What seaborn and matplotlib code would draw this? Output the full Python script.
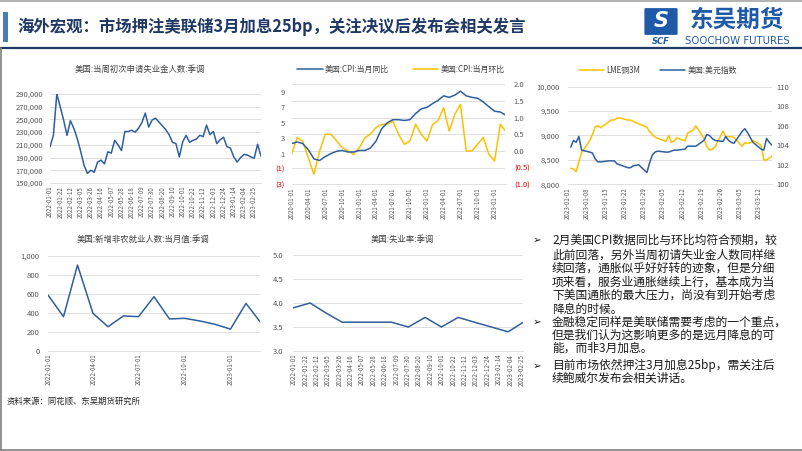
import numpy as np
import pandas as pd
import matplotlib
matplotlib.use("Agg")
import matplotlib.pyplot as plt
import seaborn as sns
from matplotlib.patches import Rectangle, FancyBboxPatch
from matplotlib.lines import Line2D

sns.set_theme(style="white")
plt.rcParams["font.family"] = ["Noto Sans CJK SC", "DejaVu Sans"]
plt.rcParams["axes.unicode_minus"] = False

# ---------------- data ----------------
claims_dates = pd.date_range("2022-01-01", periods=63, freq="7D")
claims = [207, 225, 290, 270, 249, 225, 248, 236, 220, 200, 178, 165, 170, 167, 183,
          186, 180, 199, 197, 217, 210, 201, 231, 231, 233, 230, 236, 245, 260, 238,
          249, 252, 246, 240, 234, 226, 214, 212, 191, 215, 225, 214, 217, 219, 225,
          223, 241, 226, 231, 212, 218, 222, 207, 205, 191, 183, 190, 195, 194, 191,
          189, 211, 192]
claims = [v * 1000 for v in claims]
claims_ticks = pd.date_range("2022-01-01", "2023-02-25", freq="21D")

cpi_dates = pd.date_range("2019-12-31", "2023-02-28", freq="ME")
cpi_yoy = [2.3, 2.5, 2.3, 1.5, 0.3, 0.1, 0.6, 1.0, 1.3, 1.4, 1.2, 1.2, 1.4,
           1.4, 1.7, 2.6, 4.2, 5.0, 5.4, 5.4, 5.3, 5.4, 6.2, 6.8, 7.0,
           7.5, 7.9, 8.5, 8.3, 8.6, 9.1, 8.5, 8.3, 8.2, 7.7, 7.1, 6.5,
           6.4, 6.0]
cpi_mom = [-0.1, 0.4, 0.3, -0.2, -0.7, 0.0, 0.5, 0.5, 0.3, 0.1, 0.0, -0.1, 0.1,
           0.4, 0.5, 0.7, 0.8, 0.8, 0.9, 0.5, 0.2, 0.3, 0.8, 0.5, 0.3,
           0.8, 0.9, 1.3, 0.6, 1.1, 1.4, 0.0, 0.0, 0.2, 0.4, -0.1, -0.3,
           0.8, 0.6]
cpi_ticks = pd.date_range("2020-01-01", "2023-01-01", freq="QS")

fx_dates = pd.bdate_range("2023-01-02", "2023-03-17")
copper = [8328, 8314, 8259, 8464, 8650,
          8900, 9020, 9180, 9200, 9160,
          9283, 9317, 9320, 9350, 9360,
          9317, 9317, 9290, 9260, 9240,
          9170, 9078, 9020, 8970, 8940,
          8880, 9000, 8860, 8890, 8950,
          8890, 9050, 9080, 9110, 9200,
          8940, 8780, 8700, 8720, 8760,
          9090, 8976, 8976, 8976, 8960,
          8780, 8850, 8840, 8850, 8900,
          8800, 8500, 8498, 8540, 8580]
dxy = [103.8, 104.5, 104.3, 104.9, 103.5,
       103.3, 103.2, 102.6, 102.3, 102.3,
       102.4, 102.4, 102.4, 102.1, 102.0,
       101.7, 101.7, 101.9, 101.95, 102.0,
       101.2, 102.2, 103.0, 103.3, 103.4,
       103.3, 103.3, 103.4, 103.5, 103.5,
       103.6, 103.9, 103.9, 103.9, 103.9,
       104.5, 105.1, 105.0, 104.7, 104.5,
       104.4, 104.9, 104.5, 104.3, 104.2,
       105.4, 105.7, 105.3, 104.8, 104.3,
       103.6, 103.5, 104.7, 104.3, 104.0]
fx_ticks = pd.date_range("2023-01-01", "2023-03-12", freq="7D")

m_dates = pd.date_range("2021-12-31", "2023-02-28", freq="ME")
nfp = [587, 360, 902, 395, 255, 368, 360, 570, 336, 343, 315, 280, 230, 500, 308]
nfp_ticks = pd.date_range("2022-01-01", "2023-01-01", freq="QS")
unemp = [3.9, 4.0, 3.8, 3.6, 3.6, 3.6, 3.6, 3.5, 3.7, 3.5, 3.7, 3.6, 3.5, 3.4, 3.6]
unemp_ticks = pd.date_range("2022-01-01", "2023-02-25", freq="21D")

BLUE = "#2F5F9E"
YELLOW = "#FFC000"
GRID = "#D9D9D9"
TXT = "#595959"
YFS = 5.5
XFS = 4.4

W, H = 802, 451
fig = plt.figure(figsize=(W / 100, H / 100), dpi=100)


def ax_at(x0, y_top, x1, y_bot):
    return fig.add_axes([x0 / W, 1 - y_bot / H, (x1 - x0) / W, (y_bot - y_top) / H])


def style(ax, xticks, pad=4):
    ax.set_facecolor("none")
    ax.grid(axis="y", color=GRID, lw=0.6)
    ax.grid(axis="x", visible=False)
    for s in ["top", "right", "left"]:
        ax.spines[s].set_visible(False)
    ax.spines["bottom"].set_color(GRID)
    ax.spines["bottom"].set_linewidth(0.6)
    ax.tick_params(length=0, labelsize=YFS, colors=TXT, pad=pad)
    ax.set_xlabel("")
    ax.set_ylabel("")
    ax.set_xticks(xticks)
    ax.set_xticklabels([d.strftime("%Y-%m-%d") for d in xticks], rotation=90,
                       fontsize=XFS, color=TXT)
    ax.tick_params(axis="x", pad=2)


def ftext(x, y, s, **kw):
    fig.text(x / W, 1 - y / H, s, **kw)


# ---------------- header ----------------
fig.add_artist(Line2D([0, 1], [1 - 1 / H, 1 - 1 / H], color="#A6A6A6", lw=1.2))
fig.add_artist(Rectangle((3 / W, 1 - 42 / H), 5 / W, 30 / H, color="#4A7EBB", lw=0))
ftext(17, 27, "海外宏观：市场押注美联储3月加息25bp，关注决议后发布会相关发言",
      fontsize=11.8, fontweight="bold", color="#1F3864", va="center", ha="left")
fig.add_artist(Line2D([0, 1], [1 - 47.5 / H, 1 - 47.5 / H], color="#1F3864", lw=1.6))
fig.add_artist(Line2D([1 / W, 1 / W], [0, 1 - 48 / H], color="#7F7F7F", lw=1.2))
fig.add_artist(Line2D([0, 1], [1 - 450 / H, 1 - 450 / H], color="#7F7F7F", lw=1.2))
# logo
fig.add_artist(FancyBboxPatch((646 / W, 1 - 34 / H), 30 / W, 25 / H,
                              boxstyle="round,pad=0.002", color="#1E5AA8", lw=0))
ftext(661, 21, "S", fontsize=15, fontweight="bold", style="italic", color="white",
      ha="center", va="center", family="DejaVu Sans")
ftext(661, 41, "SCF", fontsize=6, fontweight="bold", style="italic", color="#1E5AA8",
      ha="center", va="center", family="DejaVu Sans")
ftext(737, 20, "东吴期货", fontsize=17, fontweight="bold", color="#1E5AA8",
      ha="center", va="center")
ftext(737, 41, "SOOCHOW FUTURES", fontsize=7.3, color="#1E5AA8",
      ha="center", va="center", family="DejaVu Sans")

# ---------------- chart 1: claims ----------------
ax1 = ax_at(50, 94, 261, 183)
sns.lineplot(x=claims_dates, y=claims, ax=ax1, color=BLUE, lw=1.1)
ax1.set_ylim(150000, 290000)
ax1.set_yticks(range(150000, 290001, 20000))
ax1.set_yticklabels([f"{v:,}" for v in range(150000, 290001, 20000)])
ax1.set_xlim(claims_dates[0], claims_dates[-1])
style(ax1, claims_ticks, pad=5)
ftext(140, 69, "美国:当周初次申请失业金人数:季调", fontsize=6, color="#404040",
      ha="center", va="center")

# ---------------- chart 2: CPI ----------------
ax2 = ax_at(291.5, 84.3, 505.5, 184.3)
sns.lineplot(x=cpi_dates, y=cpi_yoy, ax=ax2, color=BLUE, lw=1.1)
ax2.set_ylim(-3, 10)
lt = [-3, -1, 1, 3, 5, 7, 9]
ax2.set_yticks(lt)
ax2.set_yticklabels([f"({abs(v)})" if v < 0 else f"{v}" for v in lt])
ax2.set_xlim(cpi_dates[0], cpi_dates[-1])
style(ax2, cpi_ticks, pad=5)
ax2.grid(axis="y", visible=False)
ax2b = ax2.twinx()
sns.lineplot(x=cpi_dates, y=cpi_mom, ax=ax2b, color=YELLOW, lw=1.1)
ax2b.set_ylim(-1, 2)
rt = [-1.0, -0.5, 0.0, 0.5, 1.0, 1.5, 2.0]
ax2b.set_yticks(rt)
ax2b.set_yticklabels([f"({abs(v):.1f})" if v < 0 else f"{v:.1f}" for v in rt])
ax2b.grid(axis="y", color=GRID, lw=0.6)
for s in ax2b.spines.values():
    s.set_visible(False)
ax2b.tick_params(length=0, labelsize=YFS, colors=TXT, pad=6)
ax2b.set_ylabel("")
ax2.set_zorder(ax2b.get_zorder() + 1)
for lab, v in zip(ax2.get_yticklabels(), lt):
    if v < 0:
        lab.set_color("#E00000")
for lab, v in zip(ax2b.get_yticklabels(), rt):
    if v < 0:
        lab.set_color("#E00000")
fig.legend([Line2D([], [], color=BLUE, lw=1.1), Line2D([], [], color=YELLOW, lw=1.1)],
           ["美国:CPI:当月同比", "美国:CPI:当月环比"], loc="center",
           bbox_to_anchor=(401 / W, 1 - 69 / H), ncol=2, frameon=False, fontsize=5.7,
           handlelength=3.2, columnspacing=3.0, handletextpad=0.3, labelcolor="#404040")

# ---------------- chart 3: copper & dollar ----------------
ax3 = ax_at(568, 86.7, 772, 184.3)
sns.lineplot(x=fx_dates, y=copper, ax=ax3, color=YELLOW, lw=1.1)
ax3.set_ylim(8000, 10000)
ax3.set_yticks(range(8000, 10001, 500))
ax3.set_yticklabels([f"{v:,}" for v in range(8000, 10001, 500)])
ax3.set_xlim(pd.Timestamp("2023-01-01"), fx_dates[-1])
style(ax3, fx_ticks, pad=6)
ax3b = ax3.twinx()
sns.lineplot(x=fx_dates, y=dxy, ax=ax3b, color=BLUE, lw=1.1)
ax3b.set_ylim(100, 110)
ax3b.set_yticks(range(100, 111, 2))
for s in ax3b.spines.values():
    s.set_visible(False)
ax3b.grid(False)
ax3b.tick_params(length=0, labelsize=YFS, colors=TXT, pad=3)
ax3b.set_ylabel("")
fig.legend([Line2D([], [], color=YELLOW, lw=1.1), Line2D([], [], color=BLUE, lw=1.1)],
           ["LME铜3M", "美国:美元指数"], loc="center",
           bbox_to_anchor=(658 / W, 1 - 70 / H), ncol=2, frameon=False, fontsize=5.7,
           handlelength=3.2, columnspacing=2.5, handletextpad=0.3, labelcolor="#404040")

# ---------------- chart 4: NFP ----------------
ax4 = ax_at(48, 255.7, 260, 351)
sns.lineplot(x=m_dates, y=nfp, ax=ax4, color=BLUE, lw=1.1)
ax4.set_ylim(0, 1000)
ax4.set_yticks(range(0, 1001, 200))
ax4.set_yticklabels([f"{v:,}" for v in range(0, 1001, 200)])
ax4.set_xlim(m_dates[0], m_dates[-1])
style(ax4, nfp_ticks, pad=6)
ftext(143, 239, "美国:新增非农就业人数:当月值:季调", fontsize=6, color="#404040",
      ha="center", va="center")

# ---------------- chart 5: unemployment ----------------
ax5 = ax_at(293.3, 255, 523.3, 351)
sns.lineplot(x=m_dates, y=unemp, ax=ax5, color=BLUE, lw=1.1)
ax5.set_ylim(3.0, 5.0)
ax5.set_yticks([3.0, 3.5, 4.0, 4.5, 5.0])
ax5.set_yticklabels([f"{v:.1f}" for v in [3.0, 3.5, 4.0, 4.5, 5.0]])
ax5.set_xlim(m_dates[0], m_dates[-1])
style(ax5, unemp_ticks, pad=7)
ftext(402, 239, "美国:失业率:季调", fontsize=6, color="#404040",
      ha="center", va="center")

# ---------------- source ----------------
ftext(7, 401.5, "资料来源：同花顺、东吴期货研究所", fontsize=6, color="#262626",
      ha="left", va="center")

# ---------------- bullet text ----------------
bullets = [
    ["2月美国CPI数据同比与环比均符合预期，较",
     "此前回落，另外当周初请失业金人数同样继",
     "续回落，通胀似乎好好转的迹象，但是分细",
     "项来看，服务业通胀继续上行，基本成为当",
     "下美国通胀的最大压力，尚没有到开始考虑",
     "降息的时候。"],
    ["金融稳定同样是美联储需要考虑的一个重点，",
     "但是我们认为这影响更多的是远月降息的可",
     "能，而非3月加息。"],
    ["目前市场依然押注3月加息25bp，需关注后",
     "续鲍威尔发布会相关讲话。"],
]
line_y = [[240, 255, 268.3, 281.7, 295, 309], [322.3, 335.7, 348.3], [365.7, 378.3]]
for lines, ys in zip(bullets, line_y):
    ftext(537, ys[0], "➢", fontsize=7.5, color="#1A1A1A", ha="center", va="center",
          family=["DejaVu Sans"])
    for s, y in zip(lines, ys):
        ftext(552, y, s, fontsize=8.5, color="#1A1A1A", ha="left", va="center")

fig.savefig("out.png", dpi=100)
